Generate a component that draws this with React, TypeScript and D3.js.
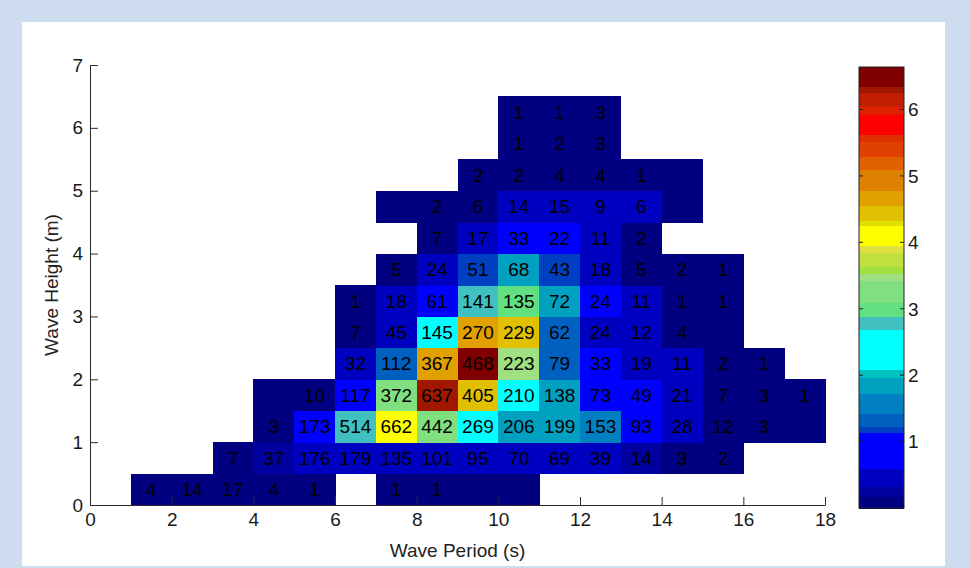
import React, { useEffect, useRef } from "react";
import * as d3 from "d3";

// lower edge of each wave height bin (m), one row of the table each
const heightBins = [0, 0.5, 1, 1.5, 2, 2.5, 3, 3.5, 4, 4.5, 5, 5.5, 6];
// first wave period bin (s) of each row
const rowStart = [1, 3, 4, 4, 6, 6, 6, 7, 8, 7, 9, 10, 10];

// occurrences per cell, null = empty, 0 = shaded without a number
const counts = [
  [4, 14, 17, 4, 1, null, 1, 1, 0, 0],
  [7, 37, 176, 179, 135, 101, 95, 70, 69, 39, 14, 3, 2],
  [3, 173, 514, 662, 442, 269, 206, 199, 153, 93, 28, 12, 3, 0],
  [0, 10, 117, 372, 637, 405, 210, 138, 73, 49, 21, 7, 3, 1],
  [32, 112, 367, 468, 223, 79, 33, 19, 11, 2, 1],
  [7, 45, 145, 270, 229, 62, 24, 12, 4, 0],
  [1, 18, 61, 141, 135, 72, 24, 11, 1, 1],
  [5, 24, 51, 68, 43, 18, 5, 2, 1],
  [7, 17, 33, 22, 11, 2],
  [0, 2, 6, 14, 15, 9, 6, 0],
  [2, 2, 4, 4, 1, 0],
  [1, 2, 3],
  [1, 1, 3],
];

// colour value of each cell (colorbar units)
const levels = [
  [0.1, 0.1, 0.1, 0.1, 0.1, null, 0.1, 0.1, 0.1, 0.1],
  [0.1, 0.25, 0.45, 0.45, 0.45, 0.45, 0.45, 0.45, 0.45, 0.45, 0.25, 0.1, 0.1],
  [0.1, 0.9, 2.8, 4.1, 3.25, 2.4, 1.85, 1.85, 1.6, 0.9, 0.45, 0.1, 0.1, 0.1],
  [0.1, 0.1, 0.9, 3.25, 6.3, 4.45, 2.4, 1.85, 0.9, 0.9, 0.45, 0.1, 0.1, 0.1],
  [0.45, 1.33, 4.67, 6.5, 3.48, 1.33, 0.9, 0.45, 0.45, 0.1, 0.1],
  [0.1, 0.45, 2.4, 4.67, 4.45, 1.33, 0.45, 0.45, 0.1, 0.1],
  [0.1, 0.45, 0.9, 2.8, 3.0, 1.85, 0.9, 0.45, 0.1, 0.1],
  [0.1, 0.45, 1.18, 1.85, 1.18, 0.45, 0.1, 0.1, 0.1],
  [0.1, 0.45, 0.9, 0.9, 0.45, 0.1],
  [0.1, 0.1, 0.1, 0.45, 0.45, 0.45, 0.45, 0.1],
  [0.1, 0.1, 0.1, 0.1, 0.1, 0.1],
  [0.1, 0.1, 0.1],
  [0.1, 0.1, 0.1],
];

const xTicks = [0, 2, 4, 6, 8, 10, 12, 14, 16, 18];
const yTicks = [0, 1, 2, 3, 4, 5, 6, 7];
const cbTicks = [1, 2, 3, 4, 5, 6];
const cbMax = 6.64;

// colorbar bands (jet-like, as seen in the figure)
const cbThresholds = [
  0.18, 0.33, 0.6, 1.13, 1.23, 1.43, 1.73, 1.96, 2.09, 2.69, 2.89, 3.09, 3.43,
  3.53, 3.63, 3.85, 3.95, 4.26, 4.33, 4.56, 4.78, 5.09, 5.29, 5.52, 5.62, 5.92,
  6.05, 6.25, 6.35,
];
const cbColors = [
  "#000080", "#0000a0", "#0000c0", "#0000ff", "#0040c0", "#0060c0", "#0080c0",
  "#00a0c0", "#00c0c0", "#00ffff", "#40c0c0", "#60e080", "#80e080", "#a0e080",
  "#a0e040", "#c0e040", "#e0e040", "#ffff00", "#e0e000", "#e0c000", "#e0a000",
  "#e08000", "#e06000", "#e04000", "#e03000", "#ff0000", "#e02000", "#c02000",
  "#a01800", "#800000",
];

const FONT = "'Liberation Sans', Arial, Helvetica, sans-serif";

const WaveScatter = () => {
  const svgRef = useRef<SVGSVGElement>(null);

  useEffect(() => {
    const svg = d3.select(svgRef.current);
    svg.selectAll("*").remove();

    // page background and white panel
    svg.append("rect").attr("width", 969).attr("height", 568).attr("fill", "#cddcee");
    svg
      .append("rect")
      .attr("x", 22)
      .attr("y", 22)
      .attr("width", 923)
      .attr("height", 544)
      .attr("fill", "#fff");

    const x = d3.scaleLinear().domain([0, 18]).range([90, 825]);
    const y = d3.scaleLinear().domain([0, 7]).range([505, 65]);
    const color = d3.scaleThreshold<number, string>().domain(cbThresholds).range(cbColors);

    const cells: { t: number; h: number; n: number; v: number }[] = [];
    counts.forEach((row, r) => {
      row.forEach((n, i) => {
        const v = levels[r][i];
        if (n === null || v === null) return;
        cells.push({ t: rowStart[r] + i, h: heightBins[r], n, v });
      });
    });

    const cw = x(1) - x(0);
    const ch = y(0) - y(0.5);

    const g = svg.append("g");
    g.selectAll("rect")
      .data(cells)
      .enter()
      .append("rect")
      .attr("x", (d) => x(d.t))
      .attr("y", (d) => y(d.h + 0.5))
      .attr("width", cw + 0.5)
      .attr("height", ch + 0.5)
      .attr("fill", (d) => color(d.v))
      .attr("shape-rendering", "crispEdges");

    g.selectAll("text")
      .data(cells.filter((d) => d.n > 0))
      .enter()
      .append("text")
      .attr("x", (d) => x(d.t + 0.5))
      .attr("y", (d) => y(d.h + 0.25))
      .attr("dy", "0.36em")
      .attr("text-anchor", "middle")
      .attr("font-family", FONT)
      .attr("font-size", 19)
      .attr("fill", "#000")
      .text((d) => d.n);

    // axes, ticks pointing inward
    const xAxis = svg
      .append("g")
      .attr("transform", `translate(0,${y(0)})`)
      .call(
        d3.axisBottom(x).tickValues(xTicks).tickFormat(d3.format("d"))
          .tickSizeInner(-8).tickSizeOuter(0).tickPadding(8)
      );
    const yAxis = svg
      .append("g")
      .attr("transform", `translate(${x(0)},0)`)
      .call(
        d3.axisLeft(y).tickValues(yTicks).tickFormat(d3.format("d"))
          .tickSizeInner(-8).tickSizeOuter(0).tickPadding(7)
      );

    [xAxis, yAxis].forEach((ax) => {
      ax.select(".domain").attr("stroke", "#2a2a2a");
      ax.selectAll(".tick line").attr("stroke", "#2a2a2a");
      ax.selectAll(".tick text")
        .attr("font-family", FONT)
        .attr("font-size", 19)
        .attr("fill", "#1a1a1a");
    });

    svg
      .append("text")
      .attr("x", (x(0) + x(18)) / 2)
      .attr("y", 557)
      .attr("text-anchor", "middle")
      .attr("font-family", FONT)
      .attr("font-size", 19)
      .attr("fill", "#222")
      .text("Wave Period (s)");

    svg
      .append("text")
      .attr("transform", `translate(58,${(y(0) + y(7)) / 2}) rotate(-90)`)
      .attr("text-anchor", "middle")
      .attr("font-family", FONT)
      .attr("font-size", 19)
      .attr("fill", "#222")
      .text("Wave Height (m)");

    // colorbar
    const cbX = 859;
    const cbW = 45;
    const cb = d3.scaleLinear().domain([0, cbMax]).range([508, 67]);
    const bands = cbColors.map((c, i) => ({
      lo: i === 0 ? 0 : cbThresholds[i - 1],
      hi: i === cbColors.length - 1 ? cbMax : cbThresholds[i],
      c,
    }));
    svg
      .append("g")
      .selectAll("rect")
      .data(bands)
      .enter()
      .append("rect")
      .attr("x", cbX)
      .attr("y", (d) => cb(d.hi))
      .attr("width", cbW)
      .attr("height", (d) => cb(d.lo) - cb(d.hi) + 0.5)
      .attr("fill", (d) => d.c)
      .attr("shape-rendering", "crispEdges");

    svg
      .append("rect")
      .attr("x", cbX)
      .attr("y", cb(cbMax))
      .attr("width", cbW)
      .attr("height", cb(0) - cb(cbMax))
      .attr("fill", "none")
      .attr("stroke", "#222");

    const cbG = svg.append("g");
    cbTicks.forEach((t) => {
      cbG.append("line")
        .attr("x1", cbX).attr("x2", cbX + 4)
        .attr("y1", cb(t)).attr("y2", cb(t))
        .attr("stroke", "#222");
      cbG.append("line")
        .attr("x1", cbX + cbW - 4).attr("x2", cbX + cbW)
        .attr("y1", cb(t)).attr("y2", cb(t))
        .attr("stroke", "#222");
      cbG.append("text")
        .attr("x", cbX + cbW + 4)
        .attr("y", cb(t))
        .attr("dy", "0.36em")
        .attr("font-family", FONT)
        .attr("font-size", 19)
        .attr("fill", "#1a1a1a")
        .text(t);
    });
  }, []);

  return (
    <svg
      ref={svgRef}
      width={969}
      height={568}
      style={{ position: "absolute", left: 0, top: 0, display: "block" }}
    ></svg>
  );
};

export default function App() {
  return <WaveScatter />;
}
